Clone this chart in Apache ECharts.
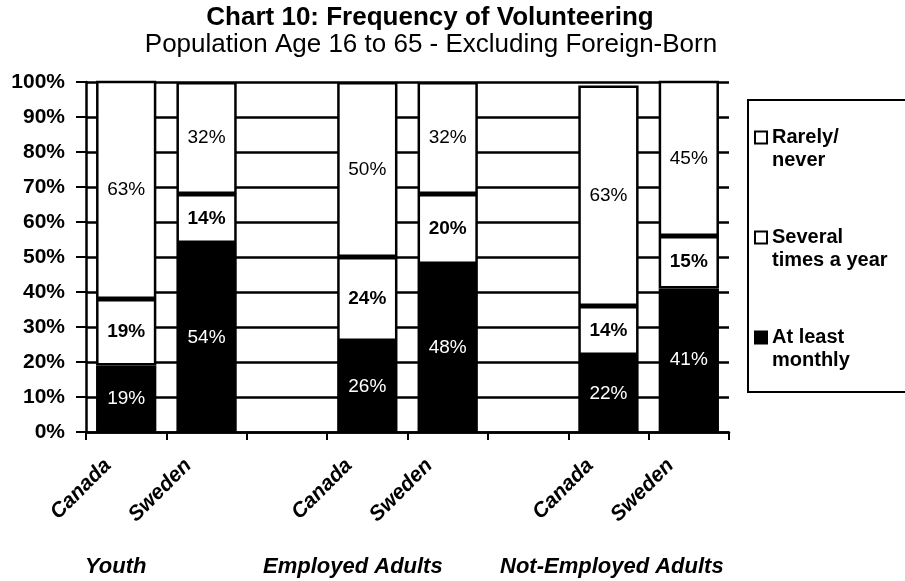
<!DOCTYPE html>
<html>
<head>
<meta charset="utf-8">
<script src="https://cdn.jsdelivr.net/npm/echarts@6/dist/echarts.min.js"></script>
<style>
  body { margin: 0; background: #fff; }
  #main { width: 905px; height: 581px; }
</style>
</head>
<body>
<div id="main"></div>
<script>
// categories along the x axis (blank slots separate the groups)
var categories = ["Canada", "Sweden", "", "Canada", "Sweden", "", "Canada", "Sweden"];
var groupNames = ["Youth", "Employed Adults", "Not-Employed Adults"];

// percent values, bottom to top
var atLeastMonthly = [19, 54, null, 26, 48, null, 22, 41];
var severalTimes = [19, 14, null, 24, 20, null, 14, 15];
var rarelyNever = [63, 32, null, 50, 32, null, 63, 45];

var seriesNames = ["At least\nmonthly", "Several\ntimes a year", "Rarely/\nnever"];
var yTicks = [0, 10, 20, 30, 40, 50, 60, 70, 80, 90, 100];

var font = "Liberation Sans, Arial, sans-serif";

var myChart = echarts.init(document.getElementById("main"));

function labelStyle(color, weight) {
  return {
    show: true,
    position: "inside",
    formatter: function (p) {
      return p.value == null ? "" : p.value + "%";
    },
    color: color,
    fontWeight: weight,
    fontSize: 19,
    fontFamily: font
  };
}

myChart.setOption({
  backgroundColor: "#fff",
  animation: false,
  graphic: [
    {
      type: "text", x: 430, y: 5,
      style: {
        text: "Chart 10: Frequency of Volunteering",
        font: "bold 26px " + font, fill: "#000", align: "center"
      }
    },
    {
      type: "text", x: 431, y: 32,
      style: {
        text: "Population Age 16 to 65 - Excluding Foreign-Born",
        font: "26px " + font, fill: "#000", align: "center"
      }
    },
    {
      type: "text", x: 85, y: 556,
      style: { text: groupNames[0], font: "italic bold 22px " + font, fill: "#000" }
    },
    {
      type: "text", x: 263, y: 556,
      style: { text: groupNames[1], font: "italic bold 22px " + font, fill: "#000" }
    },
    {
      type: "text", x: 500, y: 556,
      style: { text: groupNames[2], font: "italic bold 22px " + font, fill: "#000" }
    }
  ],
  legend: {
    orient: "vertical",
    left: 748,
    top: 100,
    padding: [3, 60, 20, 6],
    itemGap: 31,
    itemWidth: 12,
    itemHeight: 12,
    icon: "rect",
    borderColor: "#000",
    borderWidth: 2,
    data: [seriesNames[2], seriesNames[1], seriesNames[0]],
    // blank first line so the box sits beside the first line of text
    formatter: function (name) {
      return " \n" + name;
    },
    textStyle: {
      color: "#000",
      fontWeight: "bold",
      fontSize: 20,
      lineHeight: 23,
      fontFamily: font
    }
  },
  grid: {
    left: 86,
    right: 176,
    top: 82,
    bottom: 149
  },
  xAxis: {
    type: "category",
    data: categories,
    axisLine: { lineStyle: { color: "#000", width: 2.5 } },
    axisTick: { show: true, length: 8, lineStyle: { color: "#000", width: 2 } },
    axisLabel: {
      rotate: 45,
      margin: 12,
      padding: [0, 26, 0, 0],
      interval: 0,
      color: "#000",
      fontSize: 21,
      fontWeight: "bold",
      fontStyle: "italic",
      fontFamily: font
    }
  },
  yAxis: {
    type: "value",
    min: yTicks[0],
    max: yTicks[yTicks.length - 1],
    interval: 10,
    axisLine: { show: true, lineStyle: { color: "#000", width: 2.5 } },
    axisTick: { show: true, length: 10, lineStyle: { color: "#000", width: 2 } },
    axisLabel: {
      formatter: "{value}%",
      margin: 21,
      color: "#000",
      fontSize: 21,
      fontWeight: "bold",
      fontFamily: font
    },
    splitLine: { show: true, lineStyle: { color: "#000", width: 2.5 } }
  },
  series: [
    {
      name: seriesNames[0],
      type: "bar",
      stack: "total",
      barCategoryGap: "25%",
      data: atLeastMonthly,
      itemStyle: { color: "#000", borderColor: "#000", borderWidth: 2.5 },
      label: labelStyle("#fff", "normal")
    },
    {
      name: seriesNames[1],
      type: "bar",
      stack: "total",
      data: severalTimes,
      itemStyle: { color: "#fff", borderColor: "#000", borderWidth: 2.5 },
      label: labelStyle("#000", "bold")
    },
    {
      name: seriesNames[2],
      type: "bar",
      stack: "total",
      data: rarelyNever,
      itemStyle: { color: "#fff", borderColor: "#000", borderWidth: 2.5 },
      label: labelStyle("#000", "normal")
    }
  ]
});
</script>
</body>
</html>
